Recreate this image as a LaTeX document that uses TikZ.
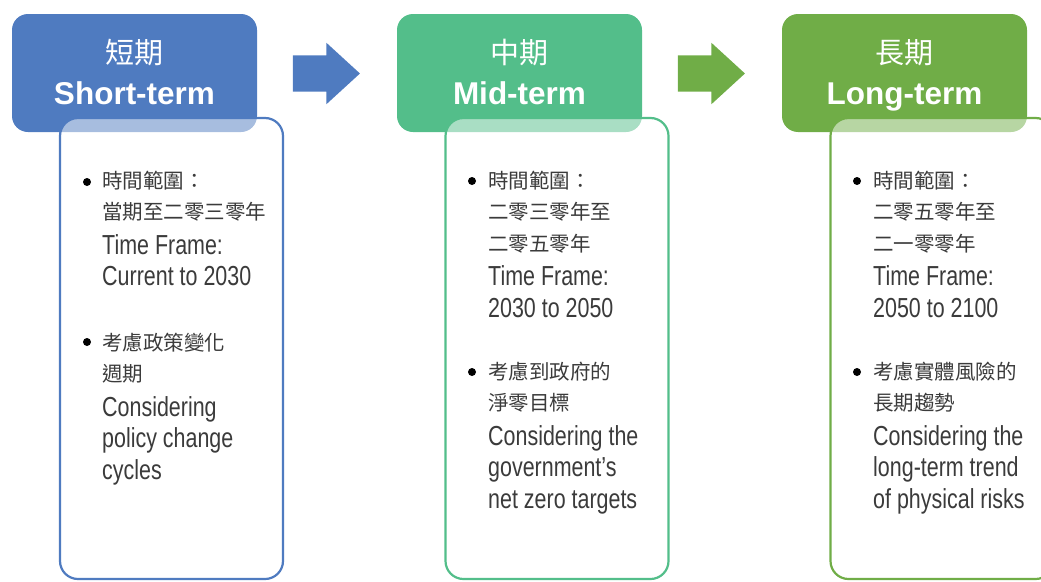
\documentclass[tikz,border=0pt]{standalone}
\usepackage{fontspec}
\setmainfont{Liberation Sans}[FakeStretch=0.78]
\newfontfamily\cjk{Noto Sans CJK TC}
\newfontfamily\headfont{Liberation Sans}
\usetikzlibrary{shapes.arrows}
\definecolor{cblue}{HTML}{4F7BC0}
\definecolor{cgreen}{HTML}{53BE8A}
\definecolor{colive}{HTML}{70AD47}
\definecolor{ctext}{HTML}{3B3B3B}
\newcommand\zh[1]{{\cjk\fontsize{20.5}{31.5}\selectfont #1}}

\begin{document}
\begin{tikzpicture}[
x=1pt,y=-1pt,
header/.style={
rounded corners=16pt,
minimum width=245pt,
minimum height=118pt,
inner sep=0pt
},
zhtitle/.style={anchor=base, text=white, inner sep=0pt, font=\cjk\fontsize{29}{32}\selectfont},
entitle/.style={anchor=base, text=white, inner sep=0pt, font=\headfont\bfseries\fontsize{31.5}{34}\selectfont},
body/.style={
line width=2.2pt,
fill=white,
fill opacity=0.5,
rounded corners=18pt,
minimum width=223pt,
minimum height=461pt,
inner sep=0pt
},
blockarrow/.style={
single arrow,
inner xsep=0pt,
inner ysep=18pt,
minimum height=67pt,
single arrow head extend=12.5pt,
single arrow tip angle=85
},
dot/.style={circle, fill=black, inner sep=0pt, minimum size=8pt},
% base anchor = baseline of the last line
item/.style={anchor=base west, align=left, inner sep=0pt, text=ctext,
font=\fontsize{27.5}{31.5}\selectfont}
]
\useasboundingbox (0,0) rectangle (1041,581);
\clip (0,0) rectangle (1041,581);

% headers
\node[header, fill=cblue] (S) at (134.5,73) {};
\node[header, fill=cgreen] (M) at (519.5,73) {};
\node[header, fill=colive] (L) at (904.5,73) {};

\node[zhtitle] (Szh) at (134.5,63) {短期};
\node[entitle] (Sen) at (134.5,104) {Short-term};
\node[zhtitle] (Mzh) at (519.5,63) {中期};
\node[entitle] (Men) at (519.5,104) {Mid-term};
\node[zhtitle] (Lzh) at (904.5,63) {長期};
\node[entitle] (Len) at (904.5,104) {Long-term};

% arrows
\node[blockarrow, fill=cblue] (A1) at (316.5,73.5) {};
\node[blockarrow, fill=colive] (A2) at (701.5,73.5) {};

% bodies
\node[body, draw=cblue] (Sb) at (171.5,348.5) {};
\node[body, draw=cgreen] (Mb) at (557,348.5) {};
\node[body, draw=colive] (Lb) at (942,348.5) {};

% short-term
\node[dot] (S1) at (87,182) {};
\node[item] (St1) at (102,285.5) {\zh{時間範圍：}\\\zh{當期至二零三零年}\\[3pt]Time Frame:\\Current to 2030};
\node[dot] (S2) at (87,342) {};
\node[item] (St2) at (102,479) {\zh{考慮政策變化}\\\zh{週期}\\[3pt]Considering\\policy change\\cycles};

% mid-term
\node[dot] (M1) at (472,181) {};
\node[item] (Mt1) at (488,317) {\zh{時間範圍：}\\\zh{二零三零年至}\\\zh{二零五零年}\\[3pt]Time Frame:\\2030 to 2050};
\node[dot] (M2) at (472,372) {};
\node[item] (Mt2) at (488,508) {\zh{考慮到政府的}\\\zh{淨零目標}\\[3pt]Considering the\\government’s\\net zero targets};

% long-term
\node[dot] (L1) at (857,181) {};
\node[item] (Lt1) at (873,317) {\zh{時間範圍：}\\\zh{二零五零年至}\\\zh{二一零零年}\\[3pt]Time Frame:\\2050 to 2100};
\node[dot] (L2) at (857,372) {};
\node[item] (Lt2) at (873,508) {\zh{考慮實體風險的}\\\zh{長期趨勢}\\[3pt]Considering the\\long-term trend\\of physical risks};

\end{tikzpicture}
\end{document}
